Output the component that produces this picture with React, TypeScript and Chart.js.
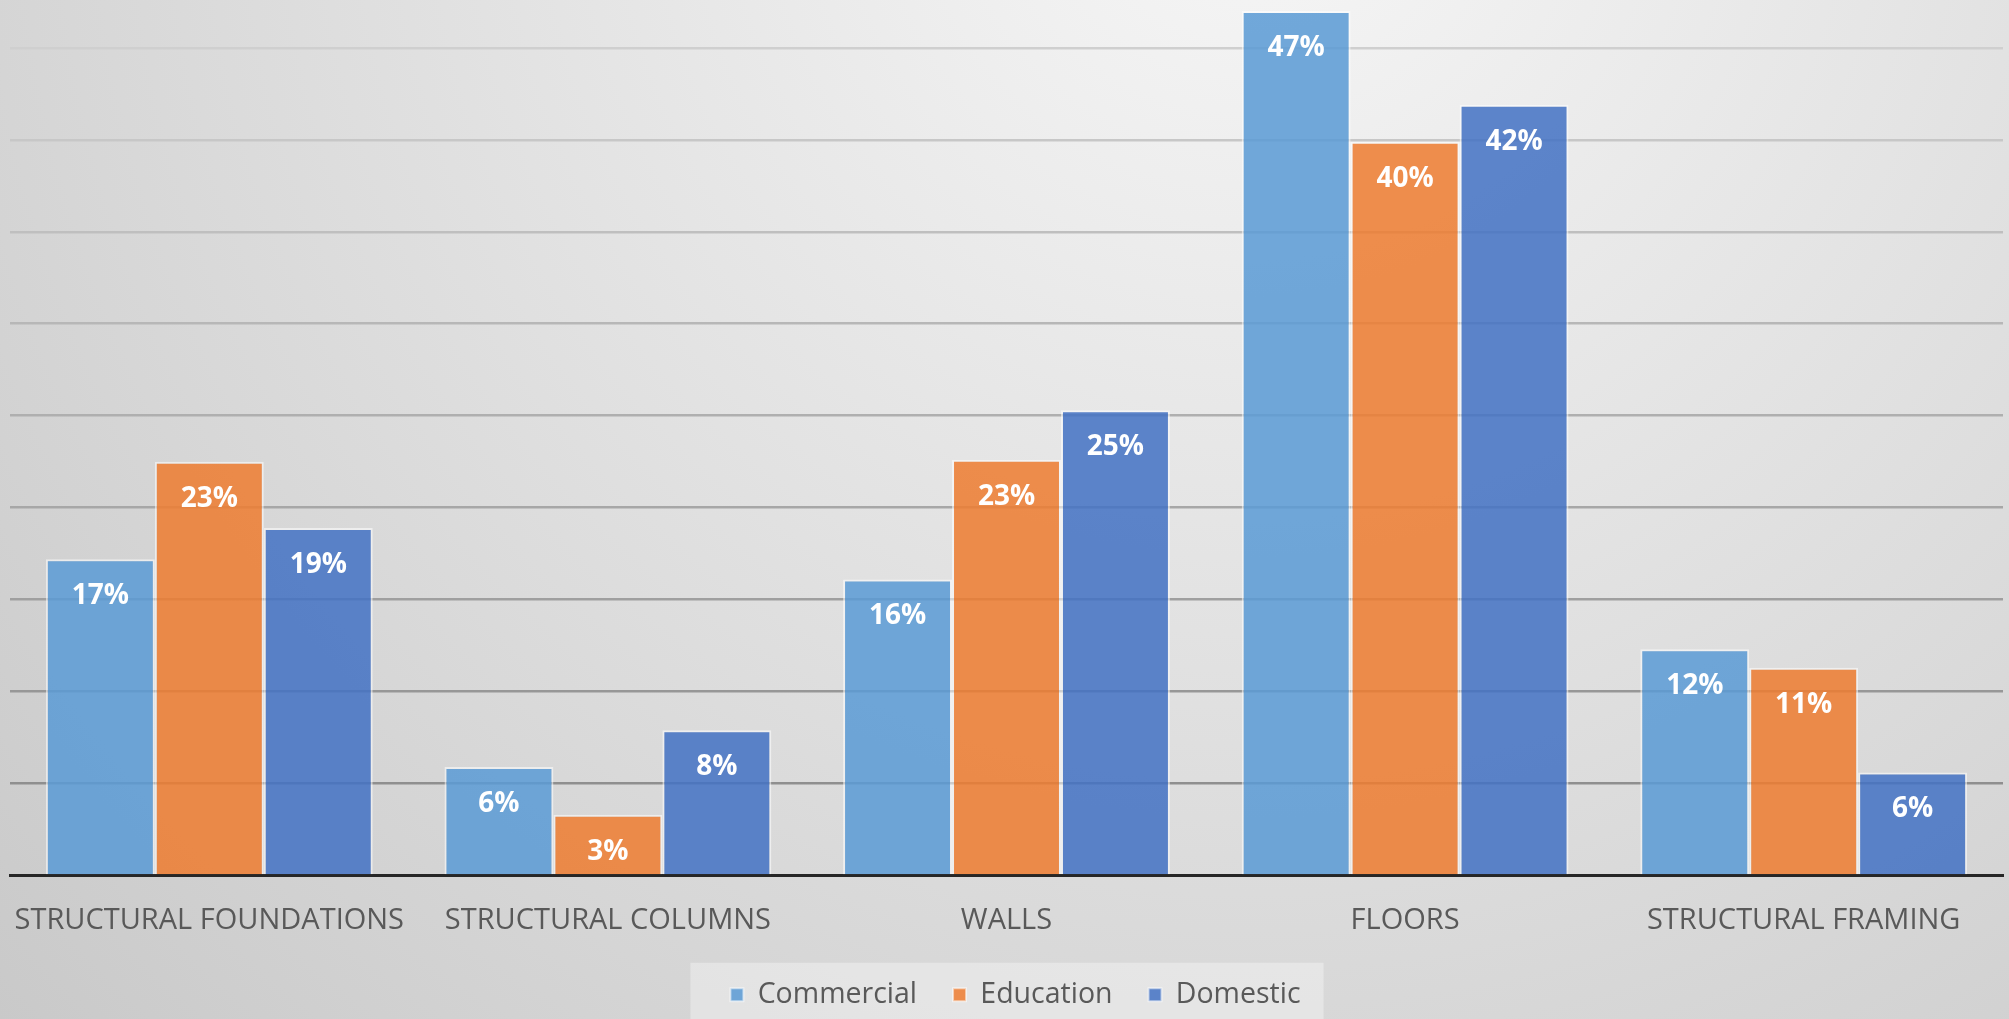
import React, { useEffect, useRef } from "react";
import { Chart, registerables } from "chart.js";

Chart.register(...registerables);

const categories = [
  "STRUCTURAL FOUNDATIONS",
  "STRUCTURAL COLUMNS",
  "WALLS",
  "FLOORS",
  "STRUCTURAL FRAMING",
];
const seriesNames = ["Commercial", "Education", "Domestic"];
const commercial = [17.2, 5.9, 16.1, 47, 12.3];
const education = [22.5, 3.3, 22.6, 39.9, 11.3];
const domestic = [18.9, 7.9, 25.3, 41.9, 5.6];
const seriesColors = [
  "rgba(91,155,213,0.86)",
  "rgba(237,125,49,0.86)",
  "rgba(68,114,196,0.86)",
];
const yMax = 47.6;
const yStep = 5;

const legendShiftPlugin = {
  id: "legendShift",
  afterLayout(chart: any) {
    const lg = chart.legend;
    if (lg) {
      lg.left += 9;
      lg.right += 9;
    }
  },
};

const bgPlugin = {
  id: "bgPlugin",
  beforeDraw(chart: any) {
    const { ctx, width, height } = chart;
    ctx.save();
    const g = ctx.createRadialGradient(1250, -150, 0, 1250, -150, 1900);
    g.addColorStop(0, "#f7f7f7");
    g.addColorStop(1, "#c4c4c4");
    ctx.fillStyle = g;
    ctx.fillRect(0, 0, width, height);
    const lg = chart.legend;
    if (lg && lg.legendHitBoxes && lg.legendHitBoxes.length) {
      const hb = lg.legendHitBoxes;
      const first = hb[0];
      const last = hb[hb.length - 1];
      const l = first.left - 40;
      const r = last.left + last.width + 23;
      const t = first.top + first.height / 2 - 32;
      ctx.fillStyle = "rgba(255,255,255,0.35)";
      ctx.fillRect(l, t, r - l, height - t);
    }
    ctx.restore();
  },
};

const labelPlugin = {
  id: "labelPlugin",
  afterDatasetsDraw(chart: any) {
    const { ctx } = chart;
    ctx.save();
    ctx.font = 'bold 28px "Open Sans"';
    ctx.fillStyle = "#ffffff";
    ctx.textAlign = "center";
    ctx.textBaseline = "middle";
    chart.data.datasets.forEach((ds: any, i: number) => {
      const meta = chart.getDatasetMeta(i);
      meta.data.forEach((bar: any, j: number) => {
        const v = ds.data[j];
        ctx.fillText(Math.round(v) + "%", bar.x, bar.y + 37);
      });
    });
    ctx.restore();
  },
};

export default function App() {
  const ref = useRef<HTMLCanvasElement | null>(null);
  useEffect(() => {
    if (!ref.current) return;
    const data = [commercial, education, domestic];
    const chart = new Chart(ref.current, {
      type: "bar",
      data: {
        labels: categories,
        datasets: seriesNames.map((name, i) => ({
          label: name,
          data: data[i],
          backgroundColor: seriesColors[i],
          borderColor: "rgba(255,255,255,0.55)",
          borderWidth: 2,
          categoryPercentage: 0.82,
          barPercentage: 1.0,
        })),
      },
      options: {
        animation: false,
        responsive: false,
        devicePixelRatio: 1,
        layout: { padding: { left: 10, right: 6, top: 0, bottom: 0 } },
        plugins: {
          tooltip: { enabled: false },
          legend: {
            position: "bottom",
            labels: {
              boxWidth: 13,
              boxHeight: 13,
              padding: 36,
              color: "#595959",
              font: { family: "Open Sans", size: 28.5 },
            },
          },
        },
        scales: {
          x: {
            grid: {
              display: true,
              drawOnChartArea: false,
              drawTicks: true,
              tickLength: 28,
              color: "rgba(0,0,0,0)",
            },
            border: { display: true, color: "#262626", width: 3 },
            ticks: {
              color: "#595959",
              font: { family: "Open Sans", size: 29 },
              padding: 0,
              maxRotation: 0,
              autoSkip: false,
            },
            afterFit: (s: any) => {
              s.height = 69;
            },
          },
          y: {
            min: 0,
            max: yMax,
            ticks: { display: false, stepSize: yStep },
            border: { display: false },
            grid: {
              drawTicks: false,
              lineWidth: 2.5,
              color: (c: any) => {
                const v = c.tick ? c.tick.value : 0;
                if (v === 0 || Math.abs(v % yStep) > 1e-6) return "rgba(0,0,0,0)";
                const t = v / 45;
                const g = Math.round(135 + t * 72);
                return `rgb(${g},${g},${g})`;
              },
            },
          },
        },
      },
      plugins: [legendShiftPlugin, bgPlugin, labelPlugin],
    });
    return () => chart.destroy();
  }, []);
  return (
    <canvas
      ref={ref}
      width={2009}
      height={1019}
      style={{ position: "fixed", left: 0, top: 0, width: 2009, height: 1019 }}
    />
  );
}
